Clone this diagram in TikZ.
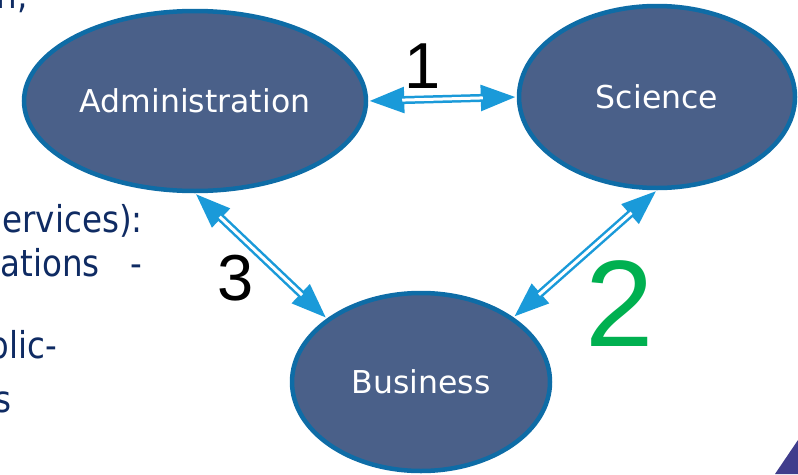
\documentclass[tikz,border=0pt]{standalone}
\usepackage{fontspec}
\setmainfont{DejaVu Sans}
\newfontfamily\numfont{Liberation Sans}
\usetikzlibrary{shapes.geometric,arrows.meta}
\definecolor{ellfill}{HTML}{4A6089}
\definecolor{elldraw}{HTML}{0E6CA6}
\definecolor{arrcol}{HTML}{1A9AD9}
\definecolor{navytext}{HTML}{0F2B63}
\definecolor{greennum}{HTML}{00B050}
\definecolor{cornercol}{HTML}{403D8C}
\newcommand{\sidetxt}[1]{\scalebox{0.88}[1]{#1}}
\tikzset{
  domainbox/.style={ellipse, draw=elldraw, line width=4.5pt, fill=ellfill, inner sep=0pt,
    text=white, font=\fontsize{31.5}{38}\selectfont},
  sidetext/.style={anchor=base east, inner sep=0pt, text=navytext, font=\fontsize{37}{44}\selectfont},
  numlabel/.style={inner sep=0pt, font=\numfont\fontsize{65}{72}\selectfont},
  linkouter/.style={draw=arrcol, line width=8pt,
    {Triangle[length=36pt,width=24pt]}-{Triangle[length=36pt,width=24pt]}},
  linkinner/.style={draw=white, line width=3pt, shorten <=34pt, shorten >=34pt}
}
\begin{document}
\begin{tikzpicture}[x=1pt,y=-1pt]
\useasboundingbox (0,0) rectangle (798,474);
\clip (0,0) rectangle (798,474);
% side text (cut-off slide text)
\node[sidetext] (t0) at (28,8) {\sidetxt{n,}};
\node[sidetext] (t1) at (143,232) {\sidetxt{ervices):}};
\node[sidetext] (t2) at (100,276) {\sidetxt{ations}};
\node[sidetext] (t2b) at (142,276) {\sidetxt{-}};
\node[sidetext] (t3) at (57,358) {\sidetxt{plic-}};
\node[sidetext] (t4) at (12,412) {\sidetxt{s}};
% corner triangle
\fill[cornercol] (775,474) -- (798,440) -- (798,474) -- cycle;
% ellipses
\node[domainbox, minimum width=342pt, minimum height=180pt] (adm) at (195,101) {Administration};
\node[domainbox, minimum width=276pt, minimum height=182pt] (sci) at (657,97) {Science};
\node[domainbox, minimum width=258pt, minimum height=178pt] (bus) at (421,382) {Business};
% connectors
\draw[linkouter] (adm.east) -- (sci.west);
\draw[linkinner] (adm.east) -- (sci.west);
\draw[linkouter] (adm.south) -- (bus.146);
\draw[linkinner] (adm.south) -- (bus.146);
\draw[linkouter] (sci.south) -- (bus.35);
\draw[linkinner] (sci.south) -- (bus.35);
% labels
\node[numlabel, text=black] (n1) at (423,66) {1};
\node[numlabel, text=black] (n3) at (236,278) {3};
\node[numlabel, text=greennum, font=\numfont\fontsize{123}{130}\selectfont] (n2) at (620,304) {2};
\end{tikzpicture}
\end{document}
